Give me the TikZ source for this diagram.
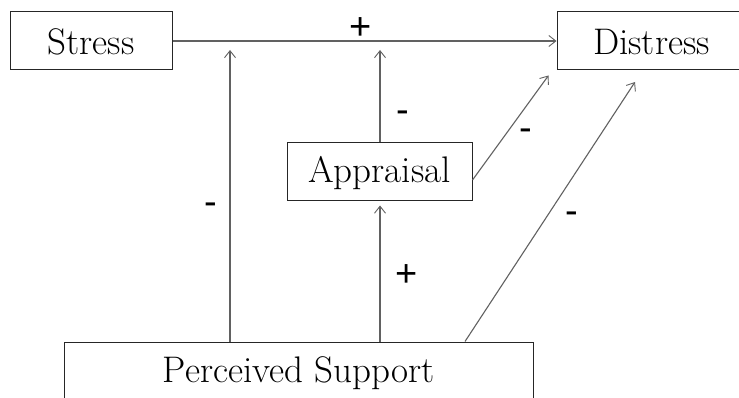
\documentclass[tikz,border=0pt]{standalone}
\usepackage{fontspec}
\newfontfamily\signfont{Liberation Sans}
\usetikzlibrary{arrows.meta,calc}
\begin{document}
\begin{tikzpicture}[x=1pt,y=-1pt,
  box/.style={draw=black!85,line width=1pt,inner sep=0pt,
    font=\fontsize{37}{40}\selectfont},
  link/.style={draw=black!62,line width=1.1pt,
    -{Straight Barb[length=7pt,width=11pt,line width=0.9pt]}},
  sign/.style={anchor=base,inner sep=0pt,font=\signfont\fontsize{38}{40}\selectfont}]
\useasboundingbox[fill=white] (0,0) rectangle (739,398);

% boxes: text height/depth fix top, baseline and bottom edge
\node[box,minimum width=162pt,text height=43pt,text depth=15pt] (stress) at (91,41) {Stress};
\node[box,minimum width=189pt,text height=43pt,text depth=15pt] (distress) at (651.5,41) {Distress};
\node[box,minimum width=185pt,text height=40pt,text depth=18pt] (appraisal) at (379.5,172) {Appraisal};
\node[box,minimum width=469pt,text height=40pt,text depth=40pt] (support) at (298.5,382) {Perceived Support};

% free ends of the moderating arrows
\coordinate (m1) at (230,50);
\coordinate (m2) at (380,50);
\coordinate (d1) at ($(distress.south west)+(-8,5)$);
\coordinate (d2) at (635,82);

% connectors
\draw[link] (stress.east) -- (distress.west);
\draw[link] (support.north -| m1) -- (m1);
\draw[link] (appraisal.north -| m2) -- (m2);
\draw[link,shorten >=4pt] (support.north -| m2) -- (appraisal.south -| m2);
\draw[link] ($(appraisal.east)+(0,8)$) -- (d1);
\draw[link] (support.north -| 465,0) -- (d2);

% signs
\node[sign] (s1) at (361,40) {+};
\node[sign] (s2) at (403,123) {-};
\node[sign] (s3) at (526,141) {-};
\node[sign] (s4) at (211,215) {-};
\node[sign] (s5) at (407,287) {+};
\node[sign] (s6) at (572,224) {-};
\end{tikzpicture}
\end{document}
